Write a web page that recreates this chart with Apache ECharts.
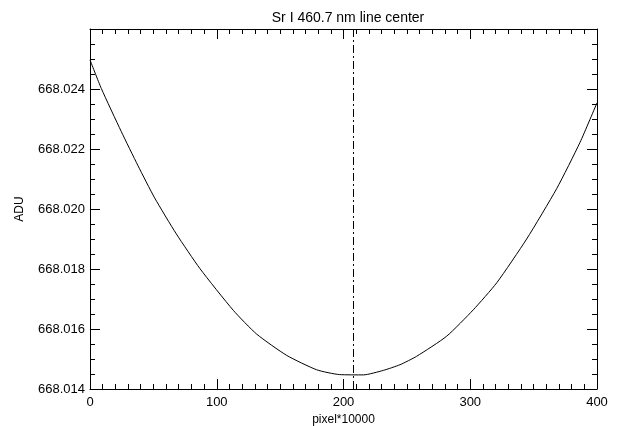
<!DOCTYPE html>
<html>
<head>
<meta charset="utf-8">
<script src="https://cdn.jsdelivr.net/npm/echarts@6/dist/echarts.min.js"></script>
<style>
  html, body { margin: 0; padding: 0; background: #fff; }
  #chart { width: 621px; height: 426px; }
</style>
</head>
<body>
<div id="chart"></div>
<script>
// Line-center position vs. pixel offset (pixel*10000), in ADU
const pixelX = [0, 8.9, 24.7, 37.9, 51, 68.1, 86.8, 113.1, 131.5, 155.2, 178.9, 197, 215.6, 231.4, 244.6, 257.7, 281.4, 302.4, 320.9, 344.5, 368.2, 386.6, 400];
const aduValues = [668.02497, 668.02402, 668.02258, 668.02144, 668.02037, 668.01917, 668.01801, 668.01662, 668.01583, 668.01512, 668.01464, 668.01448, 668.01447, 668.01462, 668.01481, 668.01509, 668.01576, 668.01664, 668.01754, 668.01900, 668.02068, 668.02222, 668.02354];
const centerX = 207.3;
const xTicks = [0, 100, 200, 300, 400];
const yTicks = ['668.014', '668.016', '668.018', '668.020', '668.022', '668.024'];

const points = pixelX.map((x, i) => [x, aduValues[i]]);
const font = 'Liberation Sans, Arial, sans-serif';

const tickStyle = { lineStyle: { color: '#000', width: 1 } };
const xBase = {
  type: 'value', min: 0, max: 400, interval: 100,
  axisLine: { show: true, onZero: false, lineStyle: { color: '#000', width: 1 } },
  axisTick: { show: true, inside: true, length: 10, ...tickStyle },
  minorTick: { show: true, splitNumber: 10, length: 5, ...tickStyle },
  splitLine: { show: false }
};
const yBase = {
  type: 'value', min: 668.014, max: 668.026, interval: 0.002,
  axisLine: { show: true, onZero: false, lineStyle: { color: '#000', width: 1 } },
  axisTick: { show: true, inside: true, length: 10, ...tickStyle },
  minorTick: { show: true, splitNumber: 4, length: 5, ...tickStyle },
  splitLine: { show: false }
};

const chart = echarts.init(document.getElementById('chart'), null, { renderer: 'canvas' });
chart.setOption({
  backgroundColor: '#fff',
  animation: false,
  title: {
    text: 'Sr I 460.7 nm line center',
    left: 343, top: 6, textAlign: 'center',
    textStyle: { fontFamily: font, fontSize: 14, fontWeight: 'normal', color: '#000' }
  },
  grid: { left: 90, top: 29, right: 24, bottom: 37, outerBoundsMode: 'none', containLabel: false },
  xAxis: [
    Object.assign({}, xBase, {
      position: 'bottom',
      name: 'pixel*10000', nameLocation: 'middle', nameGap: 25,
      nameTextStyle: { fontFamily: font, fontSize: 12, color: '#000' },
      axisLabel: {
        fontFamily: font, fontSize: 13, color: '#000', margin: 7,
        formatter: v => xTicks.includes(v) ? String(v) : ''
      }
    }),
    Object.assign({}, xBase, { position: 'top', axisLabel: { show: false } })
  ],
  yAxis: [
    Object.assign({}, yBase, {
      position: 'left',
      name: 'ADU', nameLocation: 'middle', nameGap: 64, nameRotate: 90,
      nameTextStyle: { fontFamily: font, fontSize: 12, color: '#000' },
      axisLabel: {
        fontFamily: font, fontSize: 13, color: '#000', margin: 5,
        formatter: v => {
          const s = v.toFixed(3);
          return yTicks.includes(s) ? s : '';
        }
      }
    }),
    Object.assign({}, yBase, { position: 'right', axisLabel: { show: false } })
  ],
  series: [{
    type: 'line',
    data: points,
    smooth: 0.2,
    showSymbol: false,
    lineStyle: { color: '#000', width: 1 },
    markLine: {
      silent: true,
      symbol: ['none', 'none'],
      label: { show: false },
      lineStyle: { color: '#000', width: 1, type: [8, 3, 2, 3] },
      data: [{ xAxis: centerX }]
    }
  }]
});
</script>
</body>
</html>
